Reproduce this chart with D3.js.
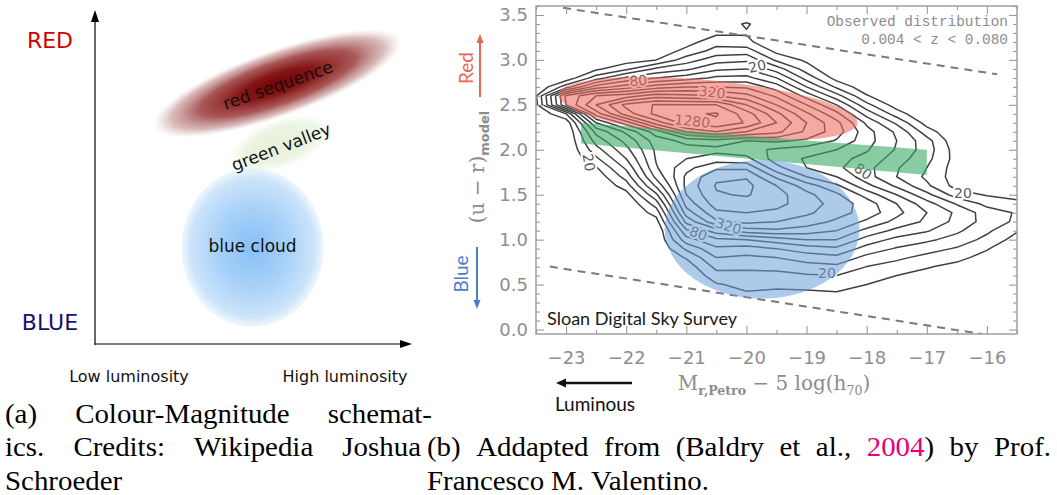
<!DOCTYPE html>
<html><head><meta charset="utf-8">
<script src="https://cdn.jsdelivr.net/npm/d3@7/dist/d3.min.js"></script>
<style>body{margin:0;background:#fff}svg{display:block}</style>
</head><body>
<svg id="c" width="1057" height="495" xmlns="http://www.w3.org/2000/svg"></svg>
<script>
// ================= DATA =================
// ---- panel (b): binned density levels ----
// level k  <=>  contour 20 * 2^((k-1)/2)   (k = 1 -> 20, 5 -> 80, 9 -> 320, 13 -> 1280)
const gridMagnitudes = [-23.5,-23,-22.5,-22,-21.5,-21,-20.5,-20,-19.5,-19,-18.5,-18,-17.5,-17,-16.5,-16,-15.5];
const gridColours = [0,0.1,0.2,0.3,0.4,0.5,0.6,0.7,0.8,0.9,1.0,1.1,1.2,1.3,1.4,1.5,1.6,1.7,1.8,1.9,2.0,2.1,2.2,2.3,2.4,2.5,2.6,2.7,2.8,2.9,3.0,3.1,3.2,3.3,3.4,3.5,3.6];
// each column: magnitude, lowest colour with non-zero level, levels upward in 0.1 steps
const densityColumns = [
  {mag:-23.5, from:2.5, levels:[0.7,0.9]},
  {mag:-23.0, from:2.3, levels:[0.3,2.0,7.0,7.2,2.5,0.3]},
  {mag:-22.5, from:1.7, levels:[0.3,0.9,1.8,2.6,3.4,4.3,6.0,8.5,10,9,5.5,2.5,0.8]},
  {mag:-22.0, from:1.5, levels:[0.6,1.5,2.4,3.2,4.0,4.7,5.3,6.2,8.5,11.5,12.3,9.5,6.5,4.2,1.8,0.5]},
  {mag:-21.5, from:1.2, levels:[0.6,1.4,2.5,3.8,5.2,6.3,6.9,7.1,7.2,7.5,8.5,11.5,13.3,13.1,10.5,7.5,5.0,3.2,1.0,0.3]},
  {mag:-21.0, from:0.7, levels:[0.4,1.1,2.2,3.6,4.8,6.3,7.5,8.4,9.0,9.3,9.2,8.7,8.0,7.6,8.3,11.0,13.5,13.8,13.0,10.3,8.0,5.5,3.8,2.5,1.3,0.6]},
  {mag:-20.5, from:0.5, levels:[0.9,1.6,2.3,3.0,3.8,4.8,6.5,8.8,9.8,10.5,10.9,11.1,10.8,9.8,8.5,7.7,8.6,12.0,13.8,14.1,13.0,10.0,8.0,6.2,4.8,3.6,2.4,1.6,0.8,0.2]},
  {mag:-20.0, from:0.4, levels:[0.9,1.3,1.7,2.2,2.8,3.6,5.0,7.5,9.3,10.0,10.6,11.1,11.3,10.9,9.8,8.3,7.4,8.0,11.0,12.9,12.5,11.0,9.3,7.8,6.3,5.0,3.8,2.5,1.3,0.9,1.15]},
  {mag:-19.5, from:0.4, levels:[0.8,1.2,1.7,2.3,3.0,4.0,5.5,7.8,9.0,9.8,10.3,10.4,10.0,8.8,7.3,6.5,6.8,8.2,10.3,11.0,10.3,9.0,7.8,6.5,5.0,3.5,1.8,0.7]},
  {mag:-19.0, from:0.4, levels:[0.8,1.3,1.9,2.6,3.5,4.5,6.0,7.5,8.5,9.2,9.5,9.3,8.5,7.0,6.0,5.9,6.5,7.8,8.8,9.0,8.2,7.0,5.6,4.0,2.6,1.5,0.8]},
  {mag:-18.5, from:0.4, levels:[0.9,1.4,2.0,2.8,3.7,4.8,6.0,7.0,7.8,8.4,8.6,8.2,7.2,6.0,5.2,5.3,6.0,6.9,7.5,7.3,6.3,5.0,3.4,1.8,0.6]},
  {mag:-18.0, from:0.5, levels:[1.0,1.5,2.0,2.7,3.6,4.6,5.7,6.8,7.6,7.5,6.6,5.3,4.4,4.3,4.7,5.1,5.4,5.4,4.8,3.6,2.3,1.1,0.3]},
  {mag:-17.5, from:0.5, levels:[0.5,1.0,1.6,2.2,2.9,3.7,4.7,5.7,6.3,6.0,5.0,3.8,3.0,3.1,3.5,3.9,4.0,3.8,2.8,1.5,0.5]},
  {mag:-17.0, from:0.6, levels:[0.6,1.1,1.7,2.4,3.2,4.1,4.8,5.0,4.4,3.3,2.2,1.8,2.0,2.3,2.5,2.4,1.5,0.6]},
  {mag:-16.5, from:0.7, levels:[0.7,1.3,1.9,2.6,3.2,3.7,3.8,2.9,1.5,0.6,0.5,0.5,0.6,0.5,0.2]},
  {mag:-16.0, from:0.8, levels:[0.6,1.1,1.7,2.2,2.6,2.5,1.7,0.9,0.4]},
  {mag:-15.5, from:1.0, levels:[0.6,1.1,1.8,1.9,1.3,0.6,0.2]}
];
const contourThresholds = [1,2,3,4,5,6,7,8,9,10,11,12,13,14];
const contourLabels = [
  {text:'20',   mag:-19.82, col:2.93, angle:-12},
  {text:'80',   mag:-21.80, col:2.77, angle:-4},
  {text:'320',  mag:-20.57, col:2.64, angle:6},
  {text:'1280', mag:-20.90, col:2.32, angle:6},
  {text:'20',   mag:-22.62, col:1.86, angle:80},
  {text:'320',  mag:-20.30, col:1.15, angle:18},
  {text:'80',   mag:-20.80, col:1.07, angle:22},
  {text:'20',   mag:-18.66, col:0.63, angle:0},
  {text:'80',   mag:-18.06, col:1.76, angle:35},
  {text:'20',   mag:-16.40, col:1.52, angle:0}
];
// dashed colour cuts: [magnitude, colour] end points
const colourCutUpper = [[-23.05,3.58],[-15.83,2.84]];
const colourCutLower = [[-23.27,0.70],[-16.08,-0.05]];
// highlighted populations (data units)
const redSequenceBand = {mag:-20.64, col:2.455, halfMag:2.5, halfCol:0.32, tilt:5.5};
const blueCloudBand   = {mag:-19.74, col:1.115, halfMag:1.62, halfCol:0.77, tilt:0};
const greenValleyBand = [[-22.75,2.30],[-17.0,2.0],[-17.0,1.72],[-22.75,2.07]];
const xTicks = [-23,-22,-21,-20,-19,-18,-17,-16];
const yTicks = [0,0.5,1.0,1.5,2.0,2.5,3.0,3.5];

// ---- panel (a): schematic regions in normalised (luminosity, colour) units ----
const schematicRegions = [
  {name:'red sequence', lum:0.576, col:0.780, halfLum:0.415, halfCol:0.10, tilt:-19.5, grad:'gRed'},
  {name:'green valley', lum:0.584, col:0.599, halfLum:0.175, halfCol:0.075, tilt:-20, grad:'gGreen'},
  {name:'blue cloud',   lum:0.497, col:0.289, halfLum:0.224, halfCol:0.237, tilt:0, grad:'gBlue'}
];
const schematicLabels = [
  {text:'red sequence', lum:0.577, col:0.775, tilt:-19.5},
  {text:'green valley', lum:0.587, col:0.590, tilt:-21},
  {text:'blue cloud',   lum:0.497, col:0.292, tilt:0}
];

// ================= DRAW =================
const svg = d3.select('#c');
const defs = svg.append('defs');
function radial(id, stops){
  const g = defs.append('radialGradient').attr('id', id).attr('cx','50%').attr('cy','50%').attr('r','50%');
  stops.forEach(s => g.append('stop').attr('offset', s[0]).attr('stop-color', s[1]).attr('stop-opacity', s[2]));
}
radial('gRed',   [[0,'#740404',1],[0.3,'#861616',1],[0.62,'#a24a4a',0.92],[0.85,'#c08c8c',0.6],[1,'#dcbcbc',0]]);
radial('gGreen', [[0,'#e4f0d8',1],[0.7,'#ebf4e2',0.9],[1,'#f4f9ef',0]]);
radial('gBlue',  [[0,'#86c0f5',1],[0.5,'#a8d1f8',1],[0.88,'#cde4fa',1],[1,'#dcecfc',0.5]]);

// ---------- panel (a) ----------
const ax = d3.scaleLinear([0,1],[95,412]);
const ay = d3.scaleLinear([0,1],[344,10]);
const pa = svg.append('g');
pa.selectAll('ellipse').data(schematicRegions).join('ellipse')
  .attr('cx', 0).attr('cy', 0)
  .attr('rx', d => ax(d.halfLum) - ax(0))
  .attr('ry', d => ay(0) - ay(d.halfCol))
  .attr('transform', d => `translate(${ax(d.lum)},${ay(d.col)}) rotate(${d.tilt})`)
  .attr('fill', d => `url(#${d.grad})`);
pa.selectAll('text.lab').data(schematicLabels).join('text').attr('class','lab')
  .attr('transform', d => `translate(${ax(d.lum)},${ay(d.col)}) rotate(${d.tilt})`)
  .attr('text-anchor','middle').attr('dominant-baseline','central')
  .attr('font-family','DejaVu Sans').attr('font-size',17).attr('fill','#111')
  .text(d => d.text);
// axes with arrows
pa.append('line').attr('x1',ax(0)).attr('y1',ay(0)+1).attr('x2',ax(0)).attr('y2',20).attr('stroke','#000').attr('stroke-width',1.2);
pa.append('path').attr('d',`M${ax(0)},10 L${ax(0)-4},22 L${ax(0)+4},22 Z`).attr('fill','#000');
pa.append('line').attr('x1',ax(0)).attr('y1',ay(0)).attr('x2',402).attr('y2',ay(0)).attr('stroke','#000').attr('stroke-width',1.2);
pa.append('path').attr('d',`M412,${ay(0)} L400,${ay(0)-4} L400,${ay(0)+4} Z`).attr('fill','#000');
pa.append('text').attr('x',50).attr('y',40).attr('text-anchor','middle').attr('dominant-baseline','central')
  .attr('font-family','DejaVu Sans').attr('font-size',22).attr('fill','#d40000').text('RED');
pa.append('text').attr('x',50).attr('y',322).attr('text-anchor','middle').attr('dominant-baseline','central')
  .attr('font-family','DejaVu Sans').attr('font-size',22).attr('fill','#12126e').text('BLUE');
pa.append('text').attr('x',129).attr('y',376).attr('text-anchor','middle').attr('dominant-baseline','central')
  .attr('font-family','DejaVu Sans').attr('font-size',16).attr('fill','#111').text('Low luminosity');
pa.append('text').attr('x',345).attr('y',376).attr('text-anchor','middle').attr('dominant-baseline','central')
  .attr('font-family','DejaVu Sans').attr('font-size',16).attr('fill','#111').text('High luminosity');

// ---------- panel (b) ----------
const xs = d3.scaleLinear([-23.5,-15.5],[536,1017]);
const ys = d3.scaleLinear([-0.05,3.6],[334,6]);
const pb = svg.append('g');
defs.append('clipPath').attr('id','frameClip').append('rect')
  .attr('x',xs.range()[0]).attr('y',ys.range()[1]).attr('width',xs.range()[1]-xs.range()[0]).attr('height',ys.range()[0]-ys.range()[1]);

// density grid -> contours
const nx = gridMagnitudes.length, ny = gridColours.length;
const values = new Array(nx*ny).fill(0);
densityColumns.forEach(c => {
  const i = gridMagnitudes.indexOf(c.mag);
  const j0 = Math.round(c.from/0.1);
  c.levels.forEach((v,k) => { values[(j0+k)*nx + i] = v; });
});
const dm = gridMagnitudes[1]-gridMagnitudes[0], dc = gridColours[1]-gridColours[0];
const gridProj = d3.geoTransform({point: function(gx, gy){
  this.stream.point(xs(gridMagnitudes[0] + (gx-0.5)*dm), ys(gridColours[0] + (gy-0.5)*dc));
}});
const cpath = d3.geoPath(gridProj);
const contours = d3.contours().size([nx,ny]).thresholds(contourThresholds)(values);
const plot = pb.append('g').attr('clip-path','url(#frameClip)');
plot.append('g').selectAll('path').data(contours).join('path')
  .attr('d', cpath).attr('fill','none').attr('stroke','#404040').attr('stroke-width',1.5).attr('stroke-linejoin','round');
plot.append('g').selectAll('text').data(contourLabels).join('text')
  .attr('transform', d => `translate(${xs(d.mag)},${ys(d.col)}) rotate(${d.angle})`)
  .attr('text-anchor','middle').attr('dominant-baseline','central')
  .attr('font-family','DejaVu Sans').attr('font-size',14).attr('fill','#5a5a5a')
  .attr('stroke','#fff').attr('stroke-width',4).attr('paint-order','stroke').text(d => d.text);
// dashed cuts
[colourCutUpper, colourCutLower].forEach(cut => {
  plot.append('line').attr('x1',xs(cut[0][0])).attr('y1',ys(cut[0][1])).attr('x2',xs(cut[1][0])).attr('y2',ys(cut[1][1]))
    .attr('stroke','#7a7a7a').attr('stroke-width',2).attr('stroke-dasharray','8,6');
});
// highlighted populations
function band(b, fill, op){
  plot.append('ellipse').attr('cx',0).attr('cy',0)
    .attr('rx', xs(b.mag + b.halfMag) - xs(b.mag)).attr('ry', ys(b.col - b.halfCol) - ys(b.col))
    .attr('transform', `translate(${xs(b.mag)},${ys(b.col)}) rotate(${b.tilt})`)
    .attr('fill', fill).attr('fill-opacity', op);
}
band(redSequenceBand, '#ee6a60', 0.58);
plot.append('path').attr('d', 'M' + greenValleyBand.map(p => [xs(p[0]), ys(p[1])].join(',')).join('L') + 'Z')
  .attr('fill','#3aaa66').attr('fill-opacity',0.6);
band(blueCloudBand, '#6a9fd8', 0.55);

// frame and ticks
const tickCol = '#9a9a9a';
function styleAxis(g){ g.select('.domain').remove(); g.selectAll('line').attr('stroke',tickCol).attr('stroke-width',1.1);
  g.selectAll('text').attr('font-family','DejaVu Sans').attr('font-size',18).attr('fill','#8e8e8e'); g.attr('font-size',null).attr('font-family',null); }
const xMinor = d3.range(-23.5,-15.49,0.5).filter(v => !xTicks.includes(v));
const yMinor = d3.range(0,3.61,0.1).map(v => +v.toFixed(1)).filter(v => !yTicks.includes(v));
const B = ys.range()[0], T = ys.range()[1], L = xs.range()[0], R = xs.range()[1];
pb.append('g').attr('transform',`translate(0,${B})`).call(d3.axisBottom(xs).tickValues(xTicks).tickSize(-8).tickPadding(17).tickFormat(d => '\u2212' + Math.abs(d))).call(styleAxis);
pb.append('g').attr('transform',`translate(0,${B})`).call(d3.axisBottom(xs).tickValues(xMinor).tickSize(-4).tickFormat('')).call(styleAxis);
pb.append('g').attr('transform',`translate(0,${T})`).call(d3.axisTop(xs).tickValues(xTicks).tickSize(-8).tickFormat('')).call(styleAxis);
pb.append('g').attr('transform',`translate(0,${T})`).call(d3.axisTop(xs).tickValues(xMinor).tickSize(-4).tickFormat('')).call(styleAxis);
pb.append('g').attr('transform',`translate(${L},0)`).call(d3.axisLeft(ys).tickValues(yTicks).tickSize(-8).tickPadding(8).tickFormat(d3.format('.1f'))).call(styleAxis);
pb.append('g').attr('transform',`translate(${L},0)`).call(d3.axisLeft(ys).tickValues(yMinor).tickSize(-4).tickFormat('')).call(styleAxis);
pb.append('g').attr('transform',`translate(${R},0)`).call(d3.axisRight(ys).tickValues(yTicks).tickSize(-8).tickFormat('')).call(styleAxis);
pb.append('g').attr('transform',`translate(${R},0)`).call(d3.axisRight(ys).tickValues(yMinor).tickSize(-4).tickFormat('')).call(styleAxis);
pb.append('rect').attr('x',L).attr('y',T).attr('width',R-L).attr('height',B-T).attr('fill','none').attr('stroke',tickCol).attr('stroke-width',1.4);

// axis titles
const xt = pb.append('text').attr('x',774).attr('y',390).attr('text-anchor','middle')
  .attr('font-family','DejaVu Serif').attr('font-size',20).attr('fill','#8c8c8c');
xt.append('tspan').text('M');
xt.append('tspan').attr('dy',5).attr('font-size',12.5).attr('font-weight','bold').text('r,Petro');
xt.append('tspan').attr('dy',-5).text(' \u2212 5 log(h');
xt.append('tspan').attr('dy',5).attr('font-size',12.5).text('70');
xt.append('tspan').attr('dy',-5).text(')');
const yt = pb.append('text').attr('transform','translate(484,167) rotate(-90)').attr('text-anchor','middle')
  .attr('font-family','DejaVu Serif').attr('font-size',20).attr('fill','#8c8c8c');
yt.append('tspan').text('(u \u2212 r)');
yt.append('tspan').attr('dy',5).attr('font-size',13).attr('font-family','DejaVu Sans').attr('font-weight','bold').text('model');

// annotations
pb.append('text').attr('x',1008).attr('y',22).attr('text-anchor','end').attr('dominant-baseline','central')
  .attr('font-family','Liberation Mono').attr('font-size',14.4).attr('fill','#8c8c8c').text('Observed distribution');
pb.append('text').attr('x',1008).attr('y',40).attr('text-anchor','end').attr('dominant-baseline','central')
  .attr('font-family','Liberation Mono').attr('font-size',14.4).attr('fill','#8c8c8c').text('0.004 < z < 0.080');
pb.append('text').attr('x',547).attr('y',318).attr('dominant-baseline','central')
  .attr('font-family','Lato').attr('font-size',17).attr('fill','#1a1a1a').attr('textLength',190).attr('lengthAdjust','spacingAndGlyphs')
  .text('Sloan Digital Sky Survey');
// Red / Blue arrows
pb.append('line').attr('x1',480).attr('y1',97).attr('x2',480).attr('y2',42).attr('stroke','#e8664f').attr('stroke-width',2);
pb.append('path').attr('d','M480,34 L476.5,43 L483.5,43 Z').attr('fill','#e8664f');
pb.append('text').attr('transform','translate(465,68) rotate(-90)').attr('text-anchor','middle').attr('dominant-baseline','central')
  .attr('font-family','Lato').attr('font-size',19).attr('fill','#e8664f').text('Red');
pb.append('line').attr('x1',477).attr('y1',247).attr('x2',477).attr('y2',301).attr('stroke','#4a7ec8').attr('stroke-width',2);
pb.append('path').attr('d','M477,309 L473.5,300 L480.5,300 Z').attr('fill','#4a7ec8');
pb.append('text').attr('transform','translate(460,274) rotate(-90)').attr('text-anchor','middle').attr('dominant-baseline','central')
  .attr('font-family','Lato').attr('font-size',19).attr('fill','#4a7ec8').text('Blue');
// Luminous arrow
pb.append('line').attr('x1',632).attr('y1',383).attr('x2',565).attr('y2',383).attr('stroke','#111').attr('stroke-width',2.6);
pb.append('path').attr('d','M556,383 L566,378.5 L566,387.5 Z').attr('fill','#111');
pb.append('text').attr('x',595).attr('y',403).attr('text-anchor','middle').attr('dominant-baseline','central')
  .attr('font-family','Lato').attr('font-size',19).attr('fill','#111').text('Luminous');

// ---------- captions ----------
const cap = svg.append('g').attr('font-family','Liberation Serif').attr('font-size',27).attr('fill','#000');
const stretch = 1.07;
function line(words, x0, x1, y, justifyIt){
  const nodes = words.map(w => {
    const t = cap.append('text').attr('y', y);
    w.forEach(seg => t.append('tspan').attr('fill', seg[1] || '#000').text(seg[0]));
    return t;
  });
  const widths = nodes.map(n => {
    const w = n.node().getComputedTextLength() * stretch;
    n.attr('textLength', w).attr('lengthAdjust','spacingAndGlyphs');
    return w;
  });
  const total = d3.sum(widths);
  const space = 7;
  const gap = justifyIt && nodes.length > 1 ? (x1 - x0 - total) / (nodes.length - 1) : space;
  let x = x0;
  nodes.forEach((n,i) => { n.attr('x', x); x += widths[i] + gap; });
}
line([[['(a)']],[['Colour-Magnitude']],[['schemat-']]], 5, 432, 423, true);
line([[['ics.']],[['Credits:']],[['Wikipedia']],[['Joshua']]], 5, 421, 456, true);
line([[['Schroeder']]], 5, 0, 490, false);
line([[['(b)']],[['Addapted']],[['from']],[['(Baldry']],[['et']],[['al.,']],[['2004','#e4007c'],[')']],[['by']],[['Prof.']]], 427, 1051, 456, true);
line([[['Francesco']],[['M.']],[['Valentino.']]], 427, 0, 490, false);
</script>
</body></html>
